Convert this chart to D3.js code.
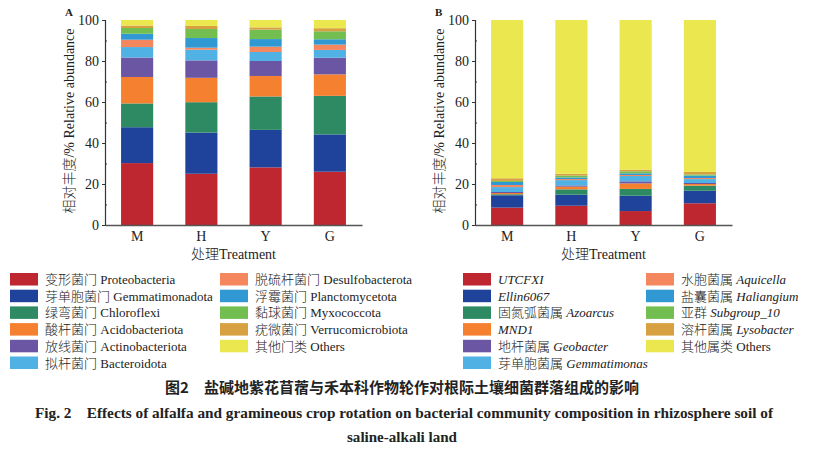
<!DOCTYPE html>
<html>
<head>
<meta charset="utf-8">
<script src="https://cdn.jsdelivr.net/npm/d3@7"></script>
<style>
    body { margin: 0; background: #fff; }
    svg { display: block; }
    text { font-family: "Liberation Serif", "Noto Sans CJK SC", serif; fill: #222; font-weight: 300; }
</style>
</head>
<body>
<svg id="chart" width="813" height="450"></svg>
<script>
var treatments = ['M', 'H', 'Y', 'G']

// panel A: phylum level
var phylumKeys = ['Proteobacteria', 'Gemmatimonadota', 'Chloroflexi', 'Acidobacteriota', 'Actinobacteriota',
    'Bacteroidota', 'Desulfobacterota', 'Planctomycetota', 'Myxococcota', 'Verrucomicrobiota', 'Others']
var phylumNames = ['变形菌门 Proteobacteria', '芽单胞菌门 Gemmatimonadota', '绿弯菌门 Chloroflexi', '酸杆菌门 Acidobacteriota',
    '放线菌门 Actinobacteriota', '拟杆菌门 Bacteroidota', '脱硫杆菌门 Desulfobacterota', '浮霉菌门 Planctomycetota',
    '黏球菌门 Myxococcota', '疣微菌门 Verrucomicrobiota', '其他门类 Others']
var phylumM = [30.2, 17.5, 11.6, 12.9, 9.5, 5.1, 3.6, 2.9, 2.8, 1.2, 2.7]
var phylumH = [25.0, 20.1, 14.8, 11.9, 8.5, 5.2, 1.0, 4.7, 4.4, 1.5, 2.9]
var phylumY = [28.1, 18.3, 16.3, 10.0, 7.3, 4.4, 2.6, 3.7, 4.6, 1.1, 3.6]
var phylumG = [26.0, 18.2, 18.8, 10.5, 8.1, 3.8, 2.6, 2.6, 3.9, 1.5, 4.0]

// panel B: genus level
var genusKeys = ['UTCFXI', 'Ellin6067', 'Azoarcus', 'MND1', 'Geobacter', 'Gemmatimonas',
    'Aquicella', 'Haliangium', 'Subgroup_10', 'Lysobacter', 'Others']
var genusCn = ['', '', '固氮弧菌属 ', '', '地杆菌属 ', '芽单胞菌属 ', '水胞菌属 ', '盐囊菌属 ', '亚群 ', '溶杆菌属 ', '其他属类 ']
var genusM = [8.5, 6.0, 0.5, 0.6, 0.5, 2.4, 1.0, 1.5, 0.5, 1.3, 77.2]
var genusH = [9.4, 5.4, 2.6, 1.3, 0.6, 2.6, 0.5, 0.8, 0.9, 0.9, 75.0]
var genusY = [6.8, 7.5, 3.3, 2.7, 1.0, 2.6, 0.5, 0.8, 1.0, 0.8, 73.0]
var genusG = [10.6, 6.1, 2.5, 0.8, 0.5, 1.9, 0.5, 1.2, 0.6, 1.2, 74.1]

var colors = ['#be2630', '#1f439b', '#2e8a62', '#f58030', '#6a56a3', '#50b1e4',
    '#f5875f', '#3098d3', '#73be50', '#d7a141', '#ebe74f']

var svg = d3.select('#chart')

function rows(keys, lists) {
    return treatments.map(function(t, i) {
        var row = { treatment: t }
        keys.forEach(function(k, j) { row[k] = lists[i][j] })
        return row
    })
}

function drawPanel(left, right, letter, keys, data) {
    var x = d3.scaleBand().domain(treatments).range([left, right]).paddingInner(0.5).paddingOuter(0.25)
    var y = d3.scaleLinear().domain([0, 100]).range([225, 20])
    var series = d3.stack().keys(keys)(data)

    var g = svg.append('g')
    g.selectAll('g.layer')
        .data(series)
        .enter().append('g')
        .attr('fill', function(d, i) { return colors[i] })
        .selectAll('rect')
        .data(function(d) { return d })
        .enter().append('rect')
        .attr('x', function(d) { return x(d.data.treatment) })
        .attr('width', x.bandwidth())
        .attr('y', function(d) { return y(d[1]) })
        .attr('height', function(d) { return y(d[0]) - y(d[1]) })

    // y axis, outer major ticks
    var yAxis = g.append('g')
        .attr('transform', 'translate(' + left + ',0)')
        .call(d3.axisLeft(y).tickValues([0, 20, 40, 60, 80, 100]).tickSize(3).tickPadding(3))
    yAxis.selectAll('text').style('font-size', '14px').attr('fill', '#222')
    yAxis.select('.domain').attr('stroke', '#333').attr('stroke-width', 1.2)
    yAxis.selectAll('line').attr('stroke', '#333')
    // minor ticks point inward
    g.append('g')
        .attr('transform', 'translate(' + left + ',0)')
        .call(d3.axisRight(y).tickValues([10, 30, 50, 70, 90]).tickSize(2).tickFormat(''))
        .call(function(a) { a.select('.domain').remove() })
        .selectAll('line').attr('stroke', '#333')

    var xAxis = g.append('g')
        .attr('transform', 'translate(0,225)')
        .call(d3.axisBottom(x).tickSize(0).tickPadding(6).tickSizeOuter(0))
    xAxis.select('.domain').attr('stroke', '#555').attr('stroke-width', 1.5)
    xAxis.selectAll('text').style('font-size', '14px').attr('fill', '#222')

    g.append('text')
        .attr('x', (left + right) / 2).attr('y', 259)
        .attr('text-anchor', 'middle')
        .style('font-size', '14px')
        .text('处理Treatment')

    g.append('text')
        .attr('transform', 'translate(' + (left - 31) + ',121) rotate(-90)')
        .attr('text-anchor', 'middle')
        .style('font-size', '14px')
        .text('相对丰度/% Relative abundance')

    g.append('text')
        .attr('x', left - 40).attr('y', 16)
        .style('font-size', '11px').style('font-weight', 'bold')
        .text(letter)
}

drawPanel(105, 362, 'A', phylumKeys, rows(phylumKeys, [phylumM, phylumH, phylumY, phylumG]))
drawPanel(475, 732, 'B', genusKeys, rows(genusKeys, [genusM, genusH, genusY, genusG]))

function drawLegend(cols, labelFn) {
    for (var i = 0; i < 11; ++i) {
        var c = i < 6 ? cols[0] : cols[1]
        var row = i < 6 ? i : i - 6
        var top = 273 + row * 16.7
        svg.append('rect')
            .attr('x', c).attr('y', top).attr('width', 28).attr('height', 12.5)
            .attr('fill', colors[i])
        labelFn(svg.append('text')
            .attr('x', c + 35).attr('y', top + 11)
            .style('font-size', '13px'), i)
    }
}

drawLegend([10, 220], function(t, i) { t.text(phylumNames[i]) })
drawLegend([463, 646], function(t, i) {
    if (genusCn[i])
        t.append('tspan').text(genusCn[i])
    t.append('tspan')
        .style('font-style', genusKeys[i] === 'Others' ? 'normal' : 'italic')
        .text((genusCn[i] ? ' ' : '') + genusKeys[i])
})

svg.append('text')
    .attr('x', 402).attr('y', 393)
    .attr('text-anchor', 'middle')
    .style('font-family', '"Noto Sans CJK SC", sans-serif')
    .style('font-size', '15px').style('font-weight', 'bold')
    .text('图2\u2003盐碱地紫花苜蓿与禾本科作物轮作对根际土壤细菌群落组成的影响')
svg.append('text')
    .attr('x', 35).attr('y', 418)
    .attr('textLength', 738).attr('lengthAdjust', 'spacingAndGlyphs')
    .style('font-size', '14px').style('font-weight', 'bold')
    .text('Fig. 2\u2003Effects of alfalfa and gramineous crop rotation on bacterial community composition in rhizosphere soil of')
svg.append('text')
    .attr('x', 402).attr('y', 442)
    .attr('text-anchor', 'middle')
    .attr('textLength', 110).attr('lengthAdjust', 'spacingAndGlyphs')
    .style('font-size', '14px').style('font-weight', 'bold')
    .text('saline-alkali land')
</script>
</body>
</html>
